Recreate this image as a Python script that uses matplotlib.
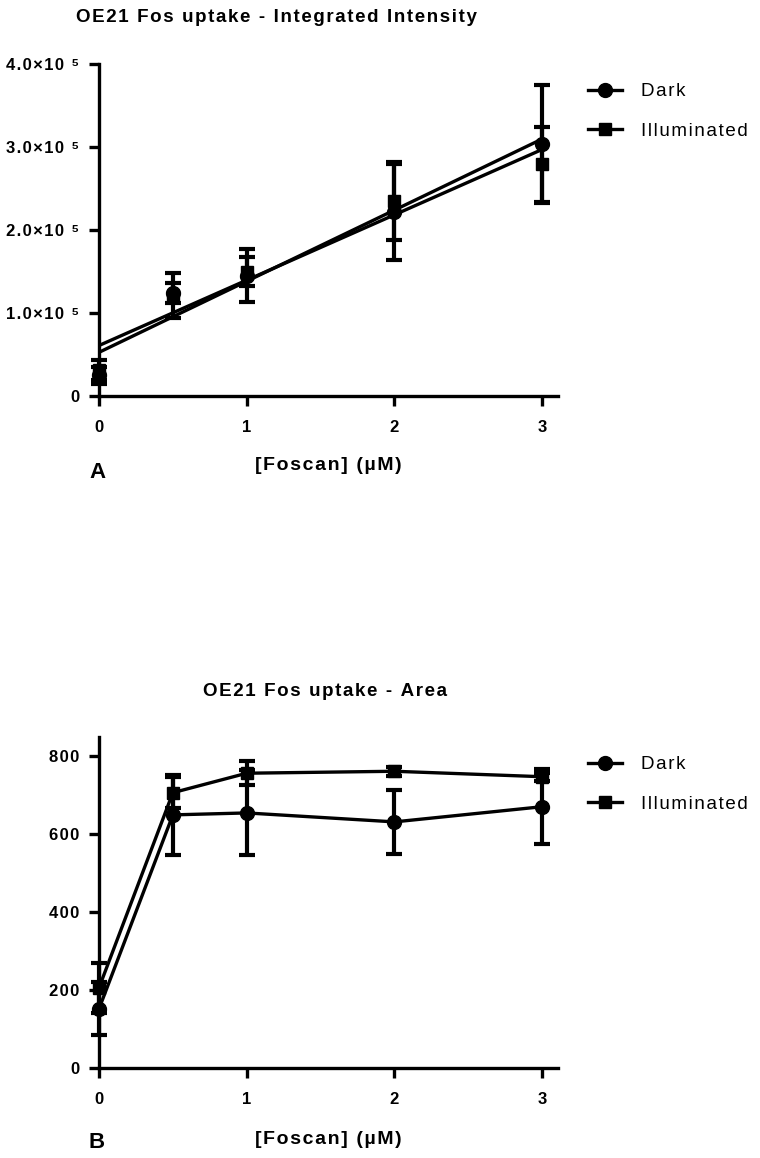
import numpy as np
import matplotlib
matplotlib.use("Agg")
import matplotlib.pyplot as plt
from matplotlib.lines import Line2D

plt.rcParams['font.family'] = ['Liberation Sans', 'DejaVu Sans']

# ---------------- data ----------------
conc = [0, 0.5, 1, 2, 3]
x_ticks = [0, 1, 2, 3]

# Panel A: integrated intensity
int_dark = [0.25e5, 1.24e5, 1.45e5, 2.22e5, 3.04e5]
int_dark_err = [0.10e5, 0.12e5, 0.32e5, 0.58e5, 0.71e5]
int_illum = [0.31e5, 1.21e5, 1.50e5, 2.35e5, 2.79e5]
int_illum_err = [0.12e5, 0.27e5, 0.18e5, 0.47e5, 0.45e5]
int_yticks = [0, 1e5, 2e5, 3e5, 4e5]
int_yticklabels = ["0", "1.0×10 ⁵", "2.0×10 ⁵", "3.0×10 ⁵", "4.0×10 ⁵"]

# Panel B: area
area_dark = [152, 650, 655, 632, 671]
area_dark_err = [68, 102, 109, 83, 97]
area_illum = [206, 707, 757, 762, 748]
area_illum_err = [64, 40, 31, 12, 10]
area_yticks = [0, 200, 400, 600, 800]

series_names = ["Dark", "Illuminated"]
title_a = "OE21 Fos uptake - Integrated Intensity"
title_b = "OE21 Fos uptake - Area"
xlabel = "[Foscan] (µM)"


def track(s, sp="\u200a"):
    return sp.join(s)


W, H = 760, 1158
fig = plt.figure(figsize=(W / 100, H / 100), dpi=100)


def axes_px(left, top, right, bottom):
    return fig.add_axes([left / W, 1 - bottom / H, (right - left) / W, (bottom - top) / H])


def style(ax, yticks, ylabels, ylim):
    for s in ["top", "right"]:
        ax.spines[s].set_visible(False)
    for s in ["left", "bottom"]:
        ax.spines[s].set_linewidth(2.4)
    ax.set_xlim(0, 3.107)
    ax.set_ylim(*ylim)
    ax.set_xticks(x_ticks)
    ax.set_xticklabels([track(str(t)) for t in x_ticks], fontweight="bold", fontsize=12)
    ax.set_yticks(yticks)
    ax.set_yticklabels([track(l) for l in ylabels], fontweight="bold", fontsize=12)
    ax.tick_params(direction="out", length=7, width=2.4, pad=7)
    ax.tick_params(axis="x", pad=10)
    ax.patch.set_alpha(0)


def legend(ax, x, y):
    handles = [
        Line2D([], [], color="black", lw=2.4, marker="o", markersize=10),
        Line2D([], [], color="black", lw=2.4, marker="s", markersize=9),
    ]
    ax.legend(handles, [track(n) for n in series_names], loc="upper left",
              bbox_to_anchor=(x, y), frameon=False, handlelength=1.8,
              fontsize=13.5, labelspacing=1.2, handletextpad=1.0,
              borderaxespad=0)


eb_kw = dict(ecolor="black", elinewidth=3, capsize=6, capthick=3, color="black")


def unclip(container):
    for ch in container.get_children():
        ch.set_clip_on(False)


# ---------------- Panel A ----------------
axA = axes_px(99, 64, 558, 396)
style(axA, int_yticks, int_yticklabels, (0, 4e5))
xx = np.array(conc)
for y, e, m, ms in [(int_dark, int_dark_err, "o", 10), (int_illum, int_illum_err, "s", 9)]:
    c = axA.errorbar(conc, y, yerr=e, fmt=m, markersize=ms, zorder=3, **eb_kw)
    unclip(c)
    slope, icpt = np.polyfit(xx, np.array(y), 1)
    xs = np.array([0, 3])
    axA.plot(xs, slope * xs + icpt, color="black", lw=2.4, zorder=2)
legend(axA, 1.05, 0.965)

# ---------------- Panel B ----------------
axB = axes_px(99, 737, 558, 1068)
style(axB, area_yticks, [str(t) for t in area_yticks], (0, 850))
for y, e, m, ms in [(area_dark, area_dark_err, "o", 10), (area_illum, area_illum_err, "s", 9)]:
    c = axB.errorbar(conc, y, yerr=e, fmt=m + "-", markersize=ms, lw=2.4, zorder=3, **eb_kw)
    unclip(c)
legend(axB, 1.05, 0.965)

# ---------------- text ----------------
fig.text(276 / W, 1 - 18 / H, track(title_a), ha="center", va="center",
         fontsize=13.5, fontweight="bold")
fig.text(325 / W, 1 - 691 / H, track(title_b), ha="center", va="center",
         fontsize=13.5, fontweight="bold")
for yl, letter, yletter in [(465, "A", 472), (1139, "B", 1142)]:
    fig.text(328 / W, 1 - yl / H, track(xlabel), ha="center", va="center",
             fontsize=14, fontweight="bold")
    fig.text(97 / W, 1 - yletter / H, letter, ha="center", va="center",
             fontsize=16, fontweight="bold")

fig.savefig("out.png", dpi=100)
